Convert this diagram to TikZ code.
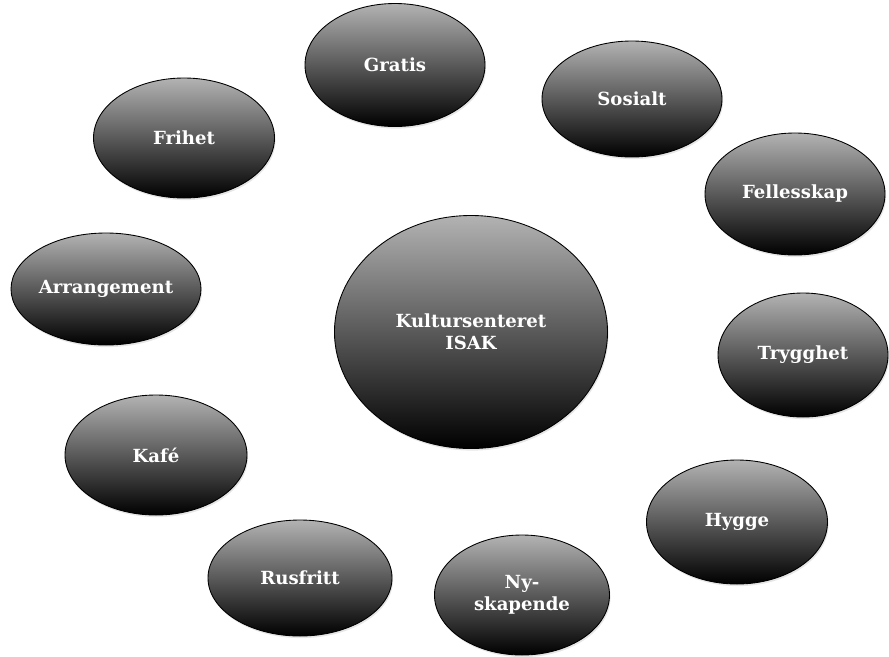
\documentclass[tikz,border=0pt]{standalone}
\usepackage{fontspec}
\setmainfont{DejaVu Serif}
\usetikzlibrary{shapes.geometric}
\usetikzlibrary{shadows}
\usetikzlibrary{positioning}
\tikzset{
  bubble/.style 2 args={ellipse, draw=black, line width=0.5pt,
  top color=black!30, bottom color=black, text=white,
  drop shadow={opacity=0.2, shadow xshift=0.6pt, shadow yshift=-1.2pt},
  font=\fontsize{10.3}{12.5}\selectfont\bfseries, align=center, inner sep=0pt,
  minimum width=#1*0.02cm, minimum height=#2*0.02cm},
}

\begin{document}
\begin{tikzpicture}[
  x=0.02cm,
  y={(0cm,-0.02cm)},
]

  \useasboundingbox (0,0) rectangle (889,656);

  % Centre
  \node[bubble={273}{233}] (isak) at (471,332) {Kultursenteret\\ISAK};

  % Values around the centre
  \node[bubble={180}{123}] (gratis)      at (395, 65) {Gratis};
  \node[bubble={180}{116}] (sosialt)     at (632, 99) {Sosialt};
  \node[bubble={181}{120}] (frihet)      at (184,138) {Frihet};
  \node[bubble={180}{122}] (fellesskap)  at (795,194) {Fellesskap};
  \node[bubble={182}{112}] (arrangement) at (106,289) {Arrangement};
  \node[bubble={170}{124}] (trygghet)    at (803,355) {Trygghet};
  \node[bubble={182}{120}] (kafe)        at (156,455) {Kafé};
  \node[bubble={181}{124}] (hygge)       at (737,522) {Hygge};
  \node[bubble={184}{116}] (rusfritt)    at (300,578) {Rusfritt};
  \node[bubble={175}{120}] (nyskapende)  at (522,595) {Ny-\\skapende};

\end{tikzpicture}
\end{document}
